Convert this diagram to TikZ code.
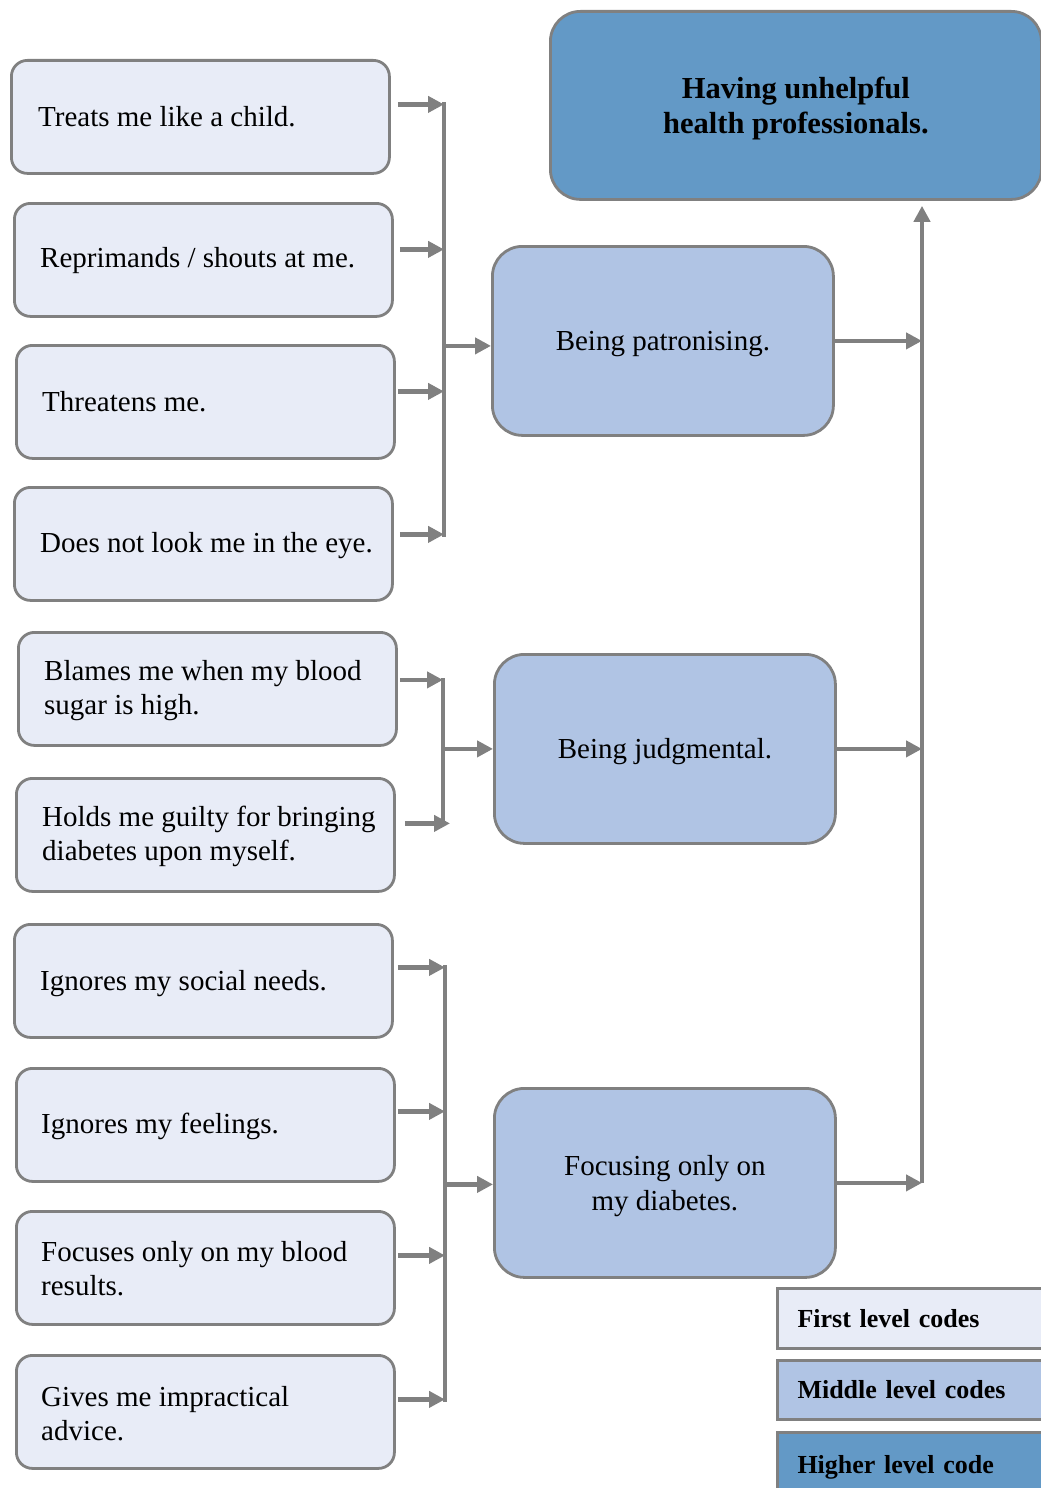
\documentclass[tikz,border=0pt]{standalone}
\usepackage{fontspec}
\setmainfont{Liberation Serif}
\usetikzlibrary{arrows.meta,calc}
\definecolor{firstfill}{RGB}{232,236,247}
\definecolor{midfill}{RGB}{176,196,228}
\definecolor{topfill}{RGB}{99,153,198}
\definecolor{edge}{RGB}{128,128,128}
\tikzset{
  firstbox/.style={draw=edge, line width=2.8pt, fill=firstfill, rounded corners=16pt,
    minimum width=378pt, minimum height=113pt, anchor=north west, inner sep=0pt},
  lbl/.style={font=\fontsize{29}{34}\selectfont, align=left, inner sep=0pt, anchor=west},
  midbox/.style={draw=edge, line width=2.8pt, fill=midfill, rounded corners=30pt,
    minimum width=341pt, minimum height=189pt, anchor=north west, align=center,
    text depth=0pt, font=\fontsize{29}{35}\selectfont},
  topbox/.style={draw=edge, line width=2.8pt, fill=topfill, rounded corners=30pt,
    minimum width=491pt, minimum height=188pt, anchor=north west, align=center,
    text depth=0pt, font=\fontsize{30.5}{35}\selectfont\bfseries},
  keybox/.style={draw=edge, line width=3pt, anchor=north west, text width=280pt,
    inner xsep=20pt, align=left, font=\fontsize{26}{30}\selectfont\bfseries},
  conn/.style={draw=edge, line width=4.5pt, -{Triangle[length=16pt,width=16pt]}},
  busline/.style={draw=edge, line width=4.5pt, line cap=rect},
}
\begin{document}
\begin{tikzpicture}[x=1pt,y=-1pt]
\clip (0,0) rectangle (1041,1488);
\fill[white] (0,0) rectangle (1041,1488);

% higher level code
\node[topbox] (top) at (549,10) {Having unhelpful\\health professionals.};

% middle level codes
\node[midbox] (pA) at (491,245) {Being patronising.};
\node[midbox] (pB) at (493,653) {Being judgmental.};
\node[midbox] (pC) at (493,1087) {Focusing only on\\my diabetes.};

% first level codes
\node[firstbox] (t1) at (10,59) {};
\node[firstbox] (t2) at (13,202) {};
\node[firstbox] (t3) at (15,344) {};
\node[firstbox] (t4) at (13,486) {};
\node[firstbox] (t5) at (17,631) {};
\node[firstbox] (t6) at (15,777) {};
\node[firstbox] (t7) at (13,923) {};
\node[firstbox] (t8) at (15,1067) {};
\node[firstbox] (t9) at (15,1210) {};
\node[firstbox] (t10) at (15,1354) {};

\node[lbl] (t1l) at ($(t1.west)+(28,0)$) {Treats me like a child.};
\node[lbl] (t2l) at ($(t2.west)+(27,1)$) {Reprimands / shouts at me.};
\node[lbl] (t3l) at ($(t3.west)+(27,0)$) {Threatens me.};
\node[lbl] (t4l) at ($(t4.west)+(27,2)$) {Does not look me in the eye.};
\node[lbl] (t5l) at ($(t5.west)+(27,2)$) {Blames me when my blood\\sugar is high.};
\node[lbl] (t6l) at ($(t6.west)+(27,2)$) {Holds me guilty for bringing\\diabetes upon myself.};
\node[lbl] (t7l) at ($(t7.west)+(27,3)$) {Ignores my social needs.};
\node[lbl] (t8l) at ($(t8.west)+(26,2)$) {Ignores my feelings.};
\node[lbl] (t9l) at ($(t9.west)+(26,1)$) {Focuses only on my blood\\results.};
\node[lbl] (t10l) at ($(t10.west)+(26,2)$) {Gives me impractical\\advice.};

% legend
\node[keybox, fill=firstfill, minimum height=60pt] (k1) at (776,1287) {First level codes};
\node[keybox, fill=midfill, minimum height=59pt] (k2) at (776,1359) {Middle level codes};
\node[keybox, fill=topfill, minimum height=70pt] (k3) at (776,1431) {Higher level code};

% bus positions
\coordinate (bus1) at (444,0);
\coordinate (bus2) at (443,0);
\coordinate (bus3) at (445,0);
\coordinate (bus4) at (922,0);

% group 1: patronising
\coordinate (a1) at ($(t1.east)+(7,-12.5)$);
\coordinate (a2) at ($(t2.east)+(6,-10.5)$);
\coordinate (a3) at ($(t3.east)+(2,-10.5)$);
\coordinate (a4) at ($(t4.east)+(6,-9.5)$);
\draw[busline] (a1 -| bus1) -- (a4 -| bus1);
\foreach \p in {a1,a2,a3,a4} \draw[conn] (\p) -- (\p -| bus1);
\coordinate (m1) at ($(pA.west)+(0,5)$);
\draw[conn] (m1 -| bus1) -- (m1);

% group 2: judgmental
\coordinate (b1) at ($(t5.east)+(2,-9)$);
\coordinate (b2) at ($(t6.east)+(9,-11.5)$);
\draw[busline] (b1 -| bus2) -- (b2 -| bus2);
\draw[conn] (b1) -- (b1 -| bus2);
\draw[conn] (b2) -- ($(b2 -| bus2)+(7,0)$);
\draw[conn] (pB.west -| bus2) -- (pB.west);

% group 3: focusing on diabetes
\coordinate (c1) at ($(t7.east)+(4,-13.5)$);
\coordinate (c2) at ($(t8.east)+(2,-13.5)$);
\coordinate (c3) at ($(t9.east)+(2,-12.5)$);
\coordinate (c4) at ($(t10.east)+(2,-12.5)$);
\draw[busline] (c1 -| bus3) -- (c4 -| bus3);
\foreach \p in {c1,c2,c3,c4} \draw[conn] (\p) -- (\p -| bus3);
\coordinate (m3) at ($(pC.west)+(0,1.5)$);
\draw[conn] (m3 -| bus3) -- (m3);

% middle codes up to the higher code
\draw[conn] (pA.east) -- (pA.east -| bus4);
\draw[conn] (pB.east) -- (pB.east -| bus4);
\draw[conn] (pC.east) -- (pC.east -| bus4);
\draw[conn, shorten >=5pt] (pC.east -| bus4) -- (top.south -| bus4);
\end{tikzpicture}
\end{document}
